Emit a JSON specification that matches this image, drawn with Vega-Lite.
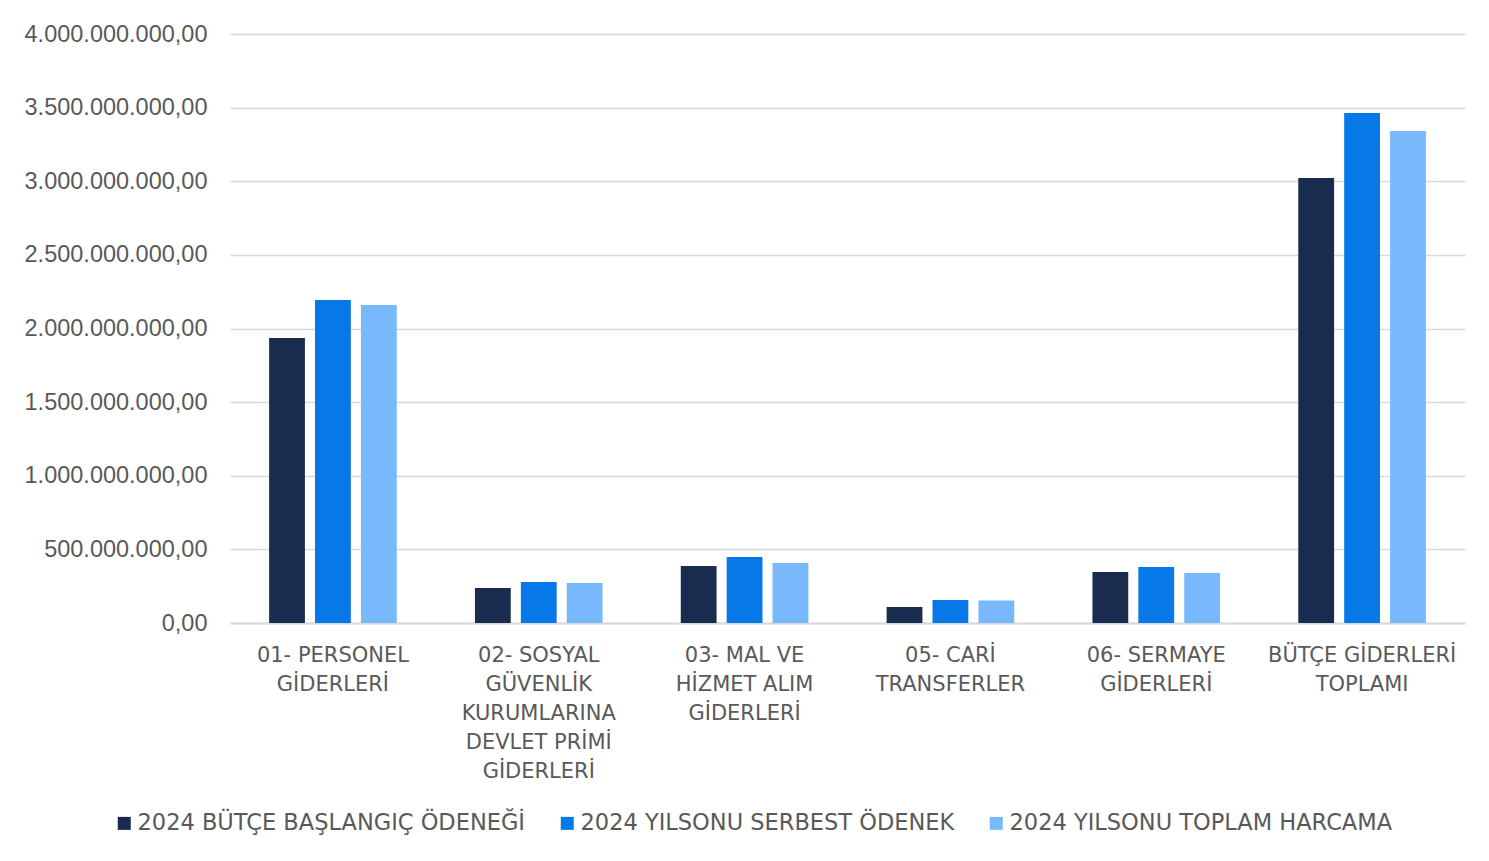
{
  "$schema": "https://vega.github.io/schema/vega-lite/v6.json",
  "width": 1235,
  "height": 589,
  "autosize": {"type": "none"},
  "padding": {"left": 230, "top": 34, "right": 24, "bottom": 238},
  "background": "white",
  "config": {
    "locale": {"number": {"decimal": ",", "thousands": ".", "grouping": [3], "currency": ["", ""]}},
    "view": {"stroke": null},
    "font": "DejaVu Sans"
  },
  "data": {
    "values": [
      {"cat": "01- PERSONEL|GİDERLERİ", "series": "2024 BÜTÇE BAŞLANGIÇ ÖDENEĞİ", "value": 1935000000},
      {"cat": "01- PERSONEL|GİDERLERİ", "series": "2024 YILSONU SERBEST ÖDENEK", "value": 2193000000},
      {"cat": "01- PERSONEL|GİDERLERİ", "series": "2024 YILSONU TOPLAM HARCAMA", "value": 2160000000},
      {"cat": "02- SOSYAL|GÜVENLİK|KURUMLARINA|DEVLET PRİMİ|GİDERLERİ", "series": "2024 BÜTÇE BAŞLANGIÇ ÖDENEĞİ", "value": 238000000},
      {"cat": "02- SOSYAL|GÜVENLİK|KURUMLARINA|DEVLET PRİMİ|GİDERLERİ", "series": "2024 YILSONU SERBEST ÖDENEK", "value": 278000000},
      {"cat": "02- SOSYAL|GÜVENLİK|KURUMLARINA|DEVLET PRİMİ|GİDERLERİ", "series": "2024 YILSONU TOPLAM HARCAMA", "value": 272000000},
      {"cat": "03- MAL VE|HİZMET ALIM|GİDERLERİ", "series": "2024 BÜTÇE BAŞLANGIÇ ÖDENEĞİ", "value": 387000000},
      {"cat": "03- MAL VE|HİZMET ALIM|GİDERLERİ", "series": "2024 YILSONU SERBEST ÖDENEK", "value": 448000000},
      {"cat": "03- MAL VE|HİZMET ALIM|GİDERLERİ", "series": "2024 YILSONU TOPLAM HARCAMA", "value": 407000000},
      {"cat": "05- CARİ|TRANSFERLER", "series": "2024 BÜTÇE BAŞLANGIÇ ÖDENEĞİ", "value": 109000000},
      {"cat": "05- CARİ|TRANSFERLER", "series": "2024 YILSONU SERBEST ÖDENEK", "value": 156000000},
      {"cat": "05- CARİ|TRANSFERLER", "series": "2024 YILSONU TOPLAM HARCAMA", "value": 152000000},
      {"cat": "06- SERMAYE|GİDERLERİ", "series": "2024 BÜTÇE BAŞLANGIÇ ÖDENEĞİ", "value": 346000000},
      {"cat": "06- SERMAYE|GİDERLERİ", "series": "2024 YILSONU SERBEST ÖDENEK", "value": 380000000},
      {"cat": "06- SERMAYE|GİDERLERİ", "series": "2024 YILSONU TOPLAM HARCAMA", "value": 340000000},
      {"cat": "BÜTÇE GİDERLERİ|TOPLAMI", "series": "2024 BÜTÇE BAŞLANGIÇ ÖDENEĞİ", "value": 3022000000},
      {"cat": "BÜTÇE GİDERLERİ|TOPLAMI", "series": "2024 YILSONU SERBEST ÖDENEK", "value": 3463000000},
      {"cat": "BÜTÇE GİDERLERİ|TOPLAMI", "series": "2024 YILSONU TOPLAM HARCAMA", "value": 3341000000}
    ]
  },
  "mark": {"type": "bar"},
  "encoding": {
    "x": {
      "field": "cat",
      "type": "nominal",
      "sort": null,
      "title": null,
      "scale": {"paddingInner": 0.38, "paddingOuter": 0.19},
      "axis": {
        "labelExpr": "split(datum.label, '|')",
        "labelAngle": 0,
        "labelFont": "DejaVu Sans",
        "labelFontSize": 21,
        "labelColor": "#595959",
        "labelLineHeight": 29,
        "labelBaseline": "top",
        "labelPadding": 21,
        "labelLimit": 0,
        "ticks": false,
        "domain": true,
        "domainColor": "#D9D9D9",
        "domainWidth": 2
      }
    },
    "xOffset": {
      "field": "series",
      "type": "nominal",
      "sort": null,
      "scale": {"paddingInner": 0.22, "paddingOuter": 0}
    },
    "y": {
      "field": "value",
      "type": "quantitative",
      "title": null,
      "scale": {"domain": [0, 4000000000], "nice": false},
      "axis": {
        "values": [0, 500000000, 1000000000, 1500000000, 2000000000, 2500000000, 3000000000, 3500000000, 4000000000],
        "format": ",.2f",
        "labelFont": "Liberation Sans",
        "labelFontSize": 23.5,
        "labelColor": "#595959",
        "labelPadding": 23,
        "labelLimit": 0,
        "ticks": false,
        "domain": false,
        "grid": true,
        "gridColor": "#D9D9D9",
        "gridWidth": 1.5
      }
    },
    "color": {
      "field": "series",
      "type": "nominal",
      "sort": null,
      "scale": {
        "domain": ["2024 BÜTÇE BAŞLANGIÇ ÖDENEĞİ", "2024 YILSONU SERBEST ÖDENEK", "2024 YILSONU TOPLAM HARCAMA"],
        "range": ["#1A2B50", "#0778E8", "#78B8FC"]
      },
      "legend": {
        "title": null,
        "orient": "none",
        "direction": "horizontal",
        "legendX": -117,
        "legendY": 778,
        "symbolType": "square",
        "symbolSize": 169,
        "symbolStrokeWidth": 0,
        "labelFont": "DejaVu Sans",
        "labelFontSize": 22.5,
        "labelColor": "#595959",
        "labelOffset": 2,
        "columnPadding": 30,
        "labelLimit": 0
      }
    }
  }
}
